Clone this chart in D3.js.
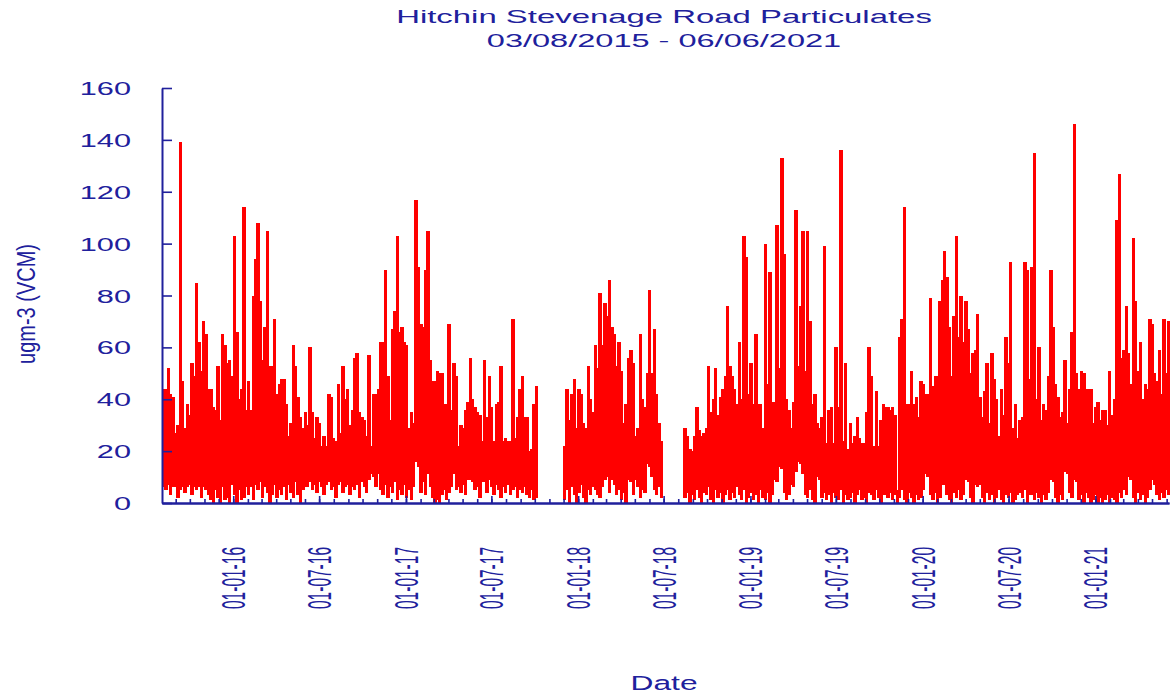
<!DOCTYPE html>
<html><head><meta charset="utf-8">
<script src="https://cdn.jsdelivr.net/npm/d3@7"></script>
<style>body{margin:0;background:#fff}svg{display:block}</style>
</head><body>
<svg id="chart" width="1171" height="696"></svg>
<script>
// ---- data (5-day bins starting at startDate; high / low of readings in each bin) ----
const titleLine1 = "Hitchin Stevenage Road Particulates";
const titleLine2 = "03/08/2015 - 06/06/2021";
const yAxisTitle = "ugm-3 (VCM)";
const xAxisTitle = "Date";
const startDate = "2015-08-03";
const endDate = "2021-06-06";
const binDays = 5;
const highValues = [
44,44,52,42,41,27,30,139,47,29,
38,34,54,49,85,62,51,70,65,44,
44,37,36,53,32,65,61,54,55,49,
103,66,40,44,114,36,47,36,80,94,
108,78,55,68,105,53,53,71,42,46,
48,48,38,26,31,61,53,41,33,29,
35,30,60,35,25,33,31,22,26,22,
42,41,25,24,46,27,53,40,44,30,
36,56,58,35,33,32,26,57,22,42,
42,44,62,62,90,49,32,67,74,103,
66,68,62,61,29,35,31,117,91,69,
68,90,105,55,47,47,51,50,50,38,
38,69,36,54,49,22,30,29,36,39,
56,40,37,35,34,24,55,33,49,37,
24,38,39,53,24,25,24,24,71,25,
33,44,49,33,33,20,21,38,45,null,
null,null,null,null,null,null,null,null,null,null,
22,44,32,42,48,29,44,42,31,29,
53,40,35,61,52,81,61,77,72,86,
68,65,53,62,51,31,38,56,59,54,
26,29,65,40,37,50,82,50,67,42,
31,24,null,null,null,null,null,null,null,null,
null,29,26,21,20,26,37,28,26,27,
29,53,35,40,52,34,41,44,49,76,
53,49,44,38,62,40,103,95,42,54,
38,65,38,38,29,100,46,89,39,39,
107,52,133,96,40,36,29,39,113,53,
76,105,51,105,70,38,42,31,29,33,
99,23,36,37,23,60,37,136,24,54,
21,31,23,26,33,25,23,23,35,60,
49,22,43,22,32,38,37,37,36,37,
34,5,64,71,114,38,38,51,38,41,
33,47,46,42,42,79,45,49,49,78,
86,97,87,68,49,72,103,64,80,62,
78,67,50,58,59,73,41,33,43,54,
31,58,48,40,26,44,34,64,54,93,
29,38,25,32,33,93,90,48,91,135,
40,60,32,38,36,49,90,68,46,41,
33,35,55,31,44,66,146,50,44,51,
50,44,44,44,31,37,39,32,36,36,
30,51,34,40,109,127,56,59,76,58,
46,102,78,51,62,40,46,44,71,69,
50,47,59,42,71,50,70
];
const lowValues = [
6,5,7,3,6,6,2,5,6,4,6,7,3,6,5,6,2,6,5,3,
1,0,5,2,0,6,1,2,0,7,3,0,5,1,2,6,
3,6,1,7,5,8,2,6,4,0,3,7,2,5,3,6,1,7,4,2,8,3,0,5,6,
6,8,5,7,4,8,6,3,7,8,5,6,2,7,8,4,6,7,3,6,
5,7,2,8,6,4,9,11,10,6,11,5,3,7,2,6,4,8,1,5,
3,7,2,5,1,6,16,14,4,8,3,11,6,2,0,1,0,3,5,1,4,6,
11,5,6,4,7,3,9,9,8,5,6,2,8,8,4,9,6,3,7,5,2,6,4,7,3,5,6,2,5,4,6,3,2,5,1,2,
null,null,null,null,null,null,null,null,null,null,null,
1,5,0,6,3,0,4,7,2,0,5,3,6,
5,3,2,6,9,10,4,9,7,3,5,1,4,0,9,8,3,9,6,2,5,4,15,14,10,5,3,6,2,
null,null,null,null,null,null,null,null,null,
2,4,0,3,1,5,2,0,4,3,6,1,0,5,2,4,0,3,5,1,4,2,6,
3,1,5,0,2,4,1,3,0,5,2,1,4,0,3,9,8,14,13,4,
1,3,7,6,12,16,15,11,3,2,5,1,0,10,9,2,4,1,3,0,
4,2,1,5,0,3,1,2,4,0,3,5,1,2,0,4,3,1,5,2,0,3,
3,2,4,1,3,0,2,5,1,0,4,2,0,3,1,2,5,11,10,3,
1,4,0,2,7,7,3,1,0,4,2,5,1,3,9,8,2,0,7,6,
7,2,0,4,1,3,0,2,5,1,0,3,2,4,0,1,3,4,2,5,0,3,
3,1,4,2,0,3,1,4,9,8,2,0,3,1,12,11,4,2,9,8,
1,3,0,4,2,0,1,3,0,2,0,1,3,0,2,1,0,4,2,5,
3,10,9,2,0,4,1,3,0,2,5,9,7,3,1,4,2,5,3
];
const yTickValues = [0,20,40,60,80,100,120,140,160];
const xTickDates = ["2016-01-01","2016-07-01","2017-01-01","2017-07-01","2018-01-01","2018-07-01","2019-01-01","2019-07-01","2020-01-01","2020-07-01","2021-01-01"];
const xTickLabels = ["01-01-16","01-07-16","01-01-17","01-07-17","01-01-18","01-07-18","01-01-19","01-07-19","01-01-20","01-07-20","01-01-21"];

// ---- drawing ----
const NAVY = "#20209c", RED = "#ff0000";
const FONT = "'Liberation Sans', Arial, sans-serif";
const svg = d3.select("#chart");
const parse = d3.utcParse("%Y-%m-%d");
const t0 = parse(startDate), t1 = parse(endDate);
const x = d3.scaleUtc().domain([t0, t1]).range([162, 1169]);
const y = d3.scaleLinear().domain([0, 160]).range([503, 88]);

const bins = highValues.map((h, i) => ({
  start: d3.utcDay.offset(t0, i * binDays),
  end: d3.utcDay.offset(t0, Math.min((i + 1) * binDays, 2134)),
  hi: h, lo: (lowValues[i] == null ? 0 : lowValues[i])
})).filter(d => d.hi != null);

svg.append("g").attr("shape-rendering", "crispEdges")
  .selectAll("rect").data(bins).join("rect")
  .attr("x", d => x(d.start))
  .attr("width", d => Math.max(1, Math.min(x(d.end), 1169) - x(d.start) + 1))
  .attr("y", d => y(d.hi))
  .attr("height", d => Math.max(0, y(d.lo) - y(d.hi)))
  .attr("fill", RED);

// y axis (ticks pointing into the plot)
const yAxis = svg.append("g").attr("transform", "translate(162,0)")
  .call(d3.axisLeft(y).tickValues(yTickValues).tickSizeInner(-10).tickSizeOuter(0).tickFormat(""));
// x axis: monthly minor ticks, half-year major ticks
const xMinor = svg.append("g").attr("transform", "translate(0,503)")
  .call(d3.axisBottom(x).ticks(d3.utcMonth.every(1)).tickSizeInner(-4).tickSizeOuter(0).tickFormat(""));
const xMajor = svg.append("g").attr("transform", "translate(0,503)")
  .call(d3.axisBottom(x).tickValues(xTickDates.map(parse)).tickSizeInner(-7).tickSizeOuter(0).tickFormat(""));
[yAxis, xMinor, xMajor].forEach(g => {
  g.selectAll("path.domain").attr("stroke", NAVY).attr("stroke-width", 2);
  g.selectAll(".tick line").attr("stroke", NAVY).attr("stroke-width", 1.6);
});

function stretched(px, py, sx, rot, txt, size, anchor) {
  const g = svg.append("g").attr("transform", `translate(${px},${py}) scale(${sx},1)` + (rot ? ` rotate(${rot})` : ""));
  const t = g.append("text").attr("text-anchor", anchor).attr("fill", NAVY)
    .attr("font-family", FONT).attr("font-size", size).text(txt);
  if (rot) t.attr("dy", "0.35em");
  return t;
}

// titles
stretched(664, 23, 1.76, 0, titleLine1, 18.7, "middle");
stretched(664, 47, 1.74, 0, titleLine2, 18.7, "middle");
// y tick labels
yTickValues.forEach(v => stretched(131, y(v) + 7, 1.66, 0, String(v), 18.5, "end"));
// x tick labels (rotated)
xTickDates.forEach((d, i) => stretched(x(parse(d)), 547, 2.2, -90, xTickLabels[i], 15.5, "end"));
// axis titles
stretched(26, 304, 1.3, -90, yAxisTitle, 20, "middle");
stretched(664, 690, 1.63, 0, xAxisTitle, 19.5, "middle");
</script>
</body></html>
